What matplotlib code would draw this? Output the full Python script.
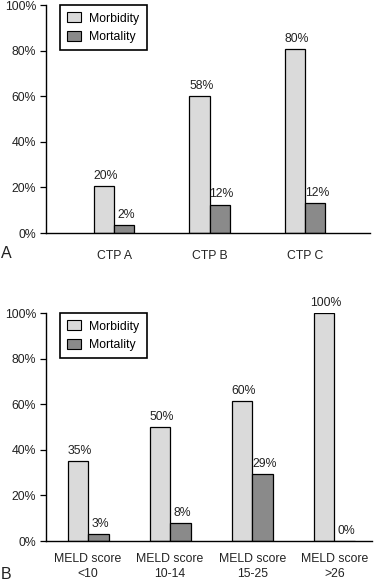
import matplotlib
matplotlib.use("Agg")
import matplotlib.pyplot as plt
from matplotlib.patches import Patch

# ---------------------------------------------------------------------------
# Data
# ---------------------------------------------------------------------------
CTP_CATS        = ["CTP A", "CTP B", "CTP C"]
CTP_MORBIDITY   = [20.5, 60, 80.5]
CTP_MORTALITY   = [3.5, 12.5, 13]
CTP_MORB_LABELS = ["20%", "58%", "80%"]
CTP_MORT_LABELS = ["2%", "12%", "12%"]

MELD_CATS        = ["MELD score\n<10", "MELD score\n10-14",
                    "MELD score\n15-25", "MELD score\n>26"]
MELD_MORBIDITY   = [35, 50, 61.5, 100]
MELD_MORTALITY   = [3, 8, 29.5, 0]
MELD_MORB_LABELS = ["35%", "50%", "60%", "100%"]
MELD_MORT_LABELS = ["3%", "8%", "29%", "0%"]

YTICKS = [0, 20, 40, 60, 80, 100]

MORB_COLOR = "#dadada"
MORT_COLOR = "#8a8a8a"
TEXT_COLOR = "#222222"
FS = 8.8

plt.rcParams["font.family"] = ["Liberation Sans", "DejaVu Sans"]
plt.rcParams["font.size"] = FS


def draw_panel(ax, cats, morb, mort, morb_lab, mort_lab, width, xlim,
               letter, letter_y, xpad):
    x = list(range(len(cats)))
    xm = [i - width / 2 for i in x]
    xo = [i + width / 2 for i in x]
    ax.bar(xm, morb, width, color=MORB_COLOR, edgecolor="black", linewidth=0.9)
    ax.bar(xo, mort, width, color=MORT_COLOR, edgecolor="black", linewidth=0.9)
    for xi, v, t in zip(xm, morb, morb_lab):
        ax.annotate(t, (xi, v), xytext=(1.5, 3), textcoords="offset points",
                    ha="center", va="bottom", color=TEXT_COLOR, fontsize=FS)
    for xi, v, t in zip(xo, mort, mort_lab):
        ax.annotate(t, (xi, v), xytext=(1.5, 3), textcoords="offset points",
                    ha="center", va="bottom", color=TEXT_COLOR, fontsize=FS)

    ax.set_xlim(*xlim)
    ax.set_ylim(0, 100)
    ax.set_yticks(YTICKS)
    ax.set_yticklabels([f"{t}%" for t in YTICKS], color=TEXT_COLOR)
    ax.set_xticks(x)
    ax.set_xticklabels(cats, color=TEXT_COLOR, linespacing=1.3)
    ax.tick_params(axis="x", length=0, pad=xpad)
    ax.tick_params(axis="y", length=4, width=0.9, pad=3)
    for s in ("top", "right"):
        ax.spines[s].set_visible(False)
    for s in ("left", "bottom"):
        ax.spines[s].set_linewidth(1.0)

    handles = [Patch(facecolor=MORB_COLOR, edgecolor="black", linewidth=0.8),
               Patch(facecolor=MORT_COLOR, edgecolor="black", linewidth=0.8)]
    leg = ax.legend(handles, ["Morbidity", "Mortality"], loc="upper left",
                    bbox_to_anchor=(0.043, 1.0), borderaxespad=0,
                    fancybox=False, fontsize=FS,
                    handlelength=1.1, handleheight=0.9, handletextpad=0.7,
                    borderpad=0.6, labelspacing=0.5, framealpha=1)
    leg.get_frame().set_edgecolor("black")
    leg.get_frame().set_linewidth(1.2)

    ax.text(-0.138, letter_y, letter, transform=ax.transAxes, fontsize=11.5,
            color=TEXT_COLOR, ha="left", va="center")


fig = plt.figure(figsize=(3.75, 5.82), dpi=100)
ax_a = fig.add_axes([46 / 375, 1 - 233 / 582, 324 / 375, 228 / 582])
ax_b = fig.add_axes([46 / 375, 1 - 541 / 582, 326 / 375, 228 / 582])

draw_panel(ax_a, CTP_CATS, CTP_MORBIDITY, CTP_MORTALITY,
           CTP_MORB_LABELS, CTP_MORT_LABELS, 0.21, (-0.712, 2.68),
           "A", -0.09, 12)
draw_panel(ax_b, MELD_CATS, MELD_MORBIDITY, MELD_MORTALITY,
           MELD_MORB_LABELS, MELD_MORT_LABELS, 0.25, (-0.512, 3.46),
           "B", -0.145, 9)

fig.savefig("out.png", dpi=100)
